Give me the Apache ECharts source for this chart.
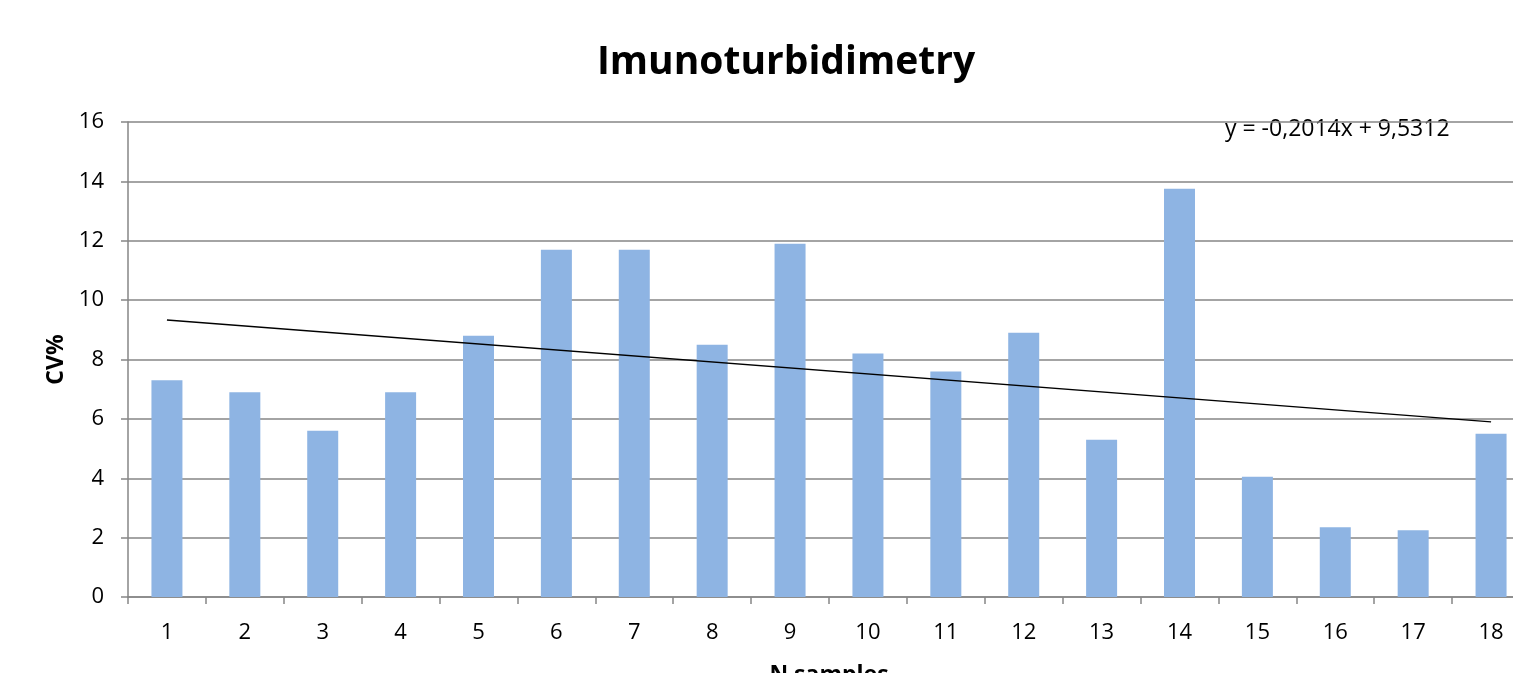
<!DOCTYPE html>
<html>
<head>
<meta charset="utf-8">
<script src="https://cdn.jsdelivr.net/npm/echarts@6/dist/echarts.min.js"></script>
<style>
  html, body { margin: 0; padding: 0; background: #fff; }
  #chart { width: 1513px; height: 673px; }
</style>
</head>
<body>
<div id="chart"></div>
<script>
// samples 1..18
var categories = ["1", "2", "3", "4", "5", "6", "7", "8", "9", "10", "11", "12", "13", "14", "15", "16", "17", "18"];
var cvValues = [7.3, 6.9, 5.6, 6.9, 8.8, 11.7, 11.7, 8.5, 11.9, 8.2, 7.6, 8.9, 5.3, 13.75, 4.05, 2.35, 2.25, 5.5];
// linear trendline, only the two ends are drawn
var trendValues = [9.33, null, null, null, null, null, null, null, null, null, null, null, null, null, null, null, null, 5.9];
var trendLabel = "y = -0,2014x + 9,5312";

var font = "'Open Sans', 'Liberation Sans', sans-serif";
var chart = echarts.init(document.getElementById("chart"));
var options = {
  animation: false,
  title: {
    text: "Imunoturbidimetry",
    left: 781,
    top: 38,
    textAlign: "center",
    textStyle: { fontFamily: font, fontSize: 39, fontWeight: "bold", color: "#000" }
  },
  graphic: [{
    type: "text",
    left: 1225,
    top: 118,
    style: { text: trendLabel, font: "23px " + font, fill: "#000" }
  }],
  grid: { left: 128, right: -17, top: 122, bottom: 76, outerBoundsMode: "none" },
  xAxis: {
    type: "category",
    data: categories,
    name: "N samples",
    nameLocation: "middle",
    nameGap: 67,
    nameTextStyle: { fontFamily: font, fontSize: 23, fontWeight: "bold", color: "#000" },
    axisLine: { lineStyle: { color: "#868686", width: 1.5 } },
    axisTick: { show: true, length: 7, lineStyle: { color: "#868686", width: 1.5 } },
    axisLabel: { fontFamily: font, fontSize: 22, color: "#000", margin: 25 }
  },
  yAxis: {
    type: "value",
    min: 0,
    max: 16,
    interval: 2,
    name: "CV%",
    nameLocation: "middle",
    nameGap: 60,
    nameTextStyle: { fontFamily: font, fontSize: 23, fontWeight: "bold", color: "#000" },
    axisLine: { show: true, lineStyle: { color: "#868686", width: 1.5 } },
    axisTick: { show: true, length: 7, lineStyle: { color: "#868686", width: 1.5 } },
    axisLabel: { fontFamily: font, fontSize: 22, color: "#000", margin: 24 },
    splitLine: { lineStyle: { color: "#868686", width: 1.5 } }
  },
  series: [
    {
      type: "bar",
      data: cvValues,
      barWidth: 31,
      itemStyle: { color: "#8EB4E3" }
    },
    {
      type: "line",
      data: trendValues,
      connectNulls: true,
      symbol: "none",
      lineStyle: { color: "#000", width: 1.3 },
      z: 5
    }
  ]
};
chart.setOption(options);
</script>
</body>
</html>
